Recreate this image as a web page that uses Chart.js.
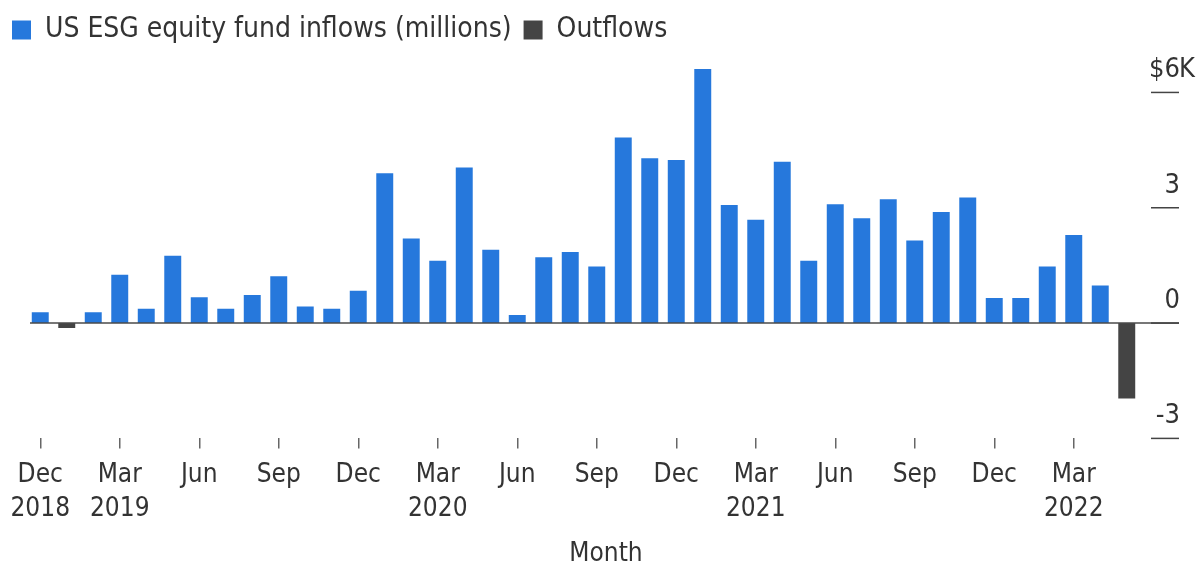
<!DOCTYPE html>
<html>
<head>
<meta charset="utf-8">
<script src="https://cdn.jsdelivr.net/npm/chart.js@4.4.1/dist/chart.umd.min.js"></script>
<style>
  html, body { margin: 0; padding: 0; background: #fff; }
  #wrap { width: 1204px; height: 565px; }
</style>
</head>
<body>
<div id="wrap"><canvas id="grafico"></canvas></div>
<script>
// Meses (dic 2018 - may 2022)
const meses = [
  'Dec 2018', 'Jan 2019', 'Feb 2019', 'Mar 2019', 'Apr 2019', 'May 2019', 'Jun 2019',
  'Jul 2019', 'Aug 2019', 'Sep 2019', 'Oct 2019', 'Nov 2019', 'Dec 2019', 'Jan 2020',
  'Feb 2020', 'Mar 2020', 'Apr 2020', 'May 2020', 'Jun 2020', 'Jul 2020', 'Aug 2020',
  'Sep 2020', 'Oct 2020', 'Nov 2020', 'Dec 2020', 'Jan 2021', 'Feb 2021', 'Mar 2021',
  'Apr 2021', 'May 2021', 'Jun 2021', 'Jul 2021', 'Aug 2021', 'Sep 2021', 'Oct 2021',
  'Nov 2021', 'Dec 2021', 'Jan 2022', 'Feb 2022', 'Mar 2022', 'Apr 2022', 'May 2022'
];

// Flujo neto en millones de USD
const flujos = [
  280, -130, 280, 1260, 370, 1750, 670, 370, 730, 1220, 430, 370, 840, 3900,
  2200, 1620, 4050, 1910, 210, 1710, 1850, 1470, 4830, 4290, 4240, 6610, 3070, 2690,
  4200, 1620, 3090, 2730, 3220, 2150, 2890, 3270, 650, 650, 1470, 2290, 980, -1960
];

// Etiquetas del eje X (una cada tres meses)
const etiquetasX = [
  ['Dec', '2018'], ['Mar', '2019'], 'Jun', 'Sep', 'Dec', ['Mar', '2020'], 'Jun',
  'Sep', 'Dec', ['Mar', '2021'], 'Jun', 'Sep', 'Dec', ['Mar', '2022']
];

// Marcas del eje Y
const marcasY = [-3000, 0, 3000, 6000];
const textosY = ['-3', '0', '3', '$6'];

const entradas = flujos.map(v => v >= 0 ? v : null);
const salidas = flujos.map(v => v < 0 ? v : null);

const FUENTE = "'DejaVu Sans Condensed', 'Liberation Sans Narrow', sans-serif";
const GRIS = '#333333';

// Dibuja línea cero, eje Y a la derecha y título "Month"
const ejesExtra = {
  id: 'ejesExtra',
  afterDatasetsDraw(chart) {
    const { ctx, chartArea, scales } = chart;
    const y = scales.y;
    ctx.save();
    // línea cero
    const y0 = y.getPixelForValue(0);
    ctx.strokeStyle = '#4a4a4a';
    ctx.lineWidth = 1.5;
    ctx.beginPath();
    ctx.moveTo(chartArea.left + 3, y0);
    ctx.lineTo(1179, y0);
    ctx.stroke();

    // marcas y textos
    ctx.font = '27px ' + FUENTE;
    ctx.fillStyle = GRIS;
    ctx.textBaseline = 'alphabetic';
    marcasY.forEach((v, i) => {
      const py = y.getPixelForValue(v);
      ctx.strokeStyle = '#444';
      ctx.lineWidth = 1.5;
      ctx.beginPath();
      ctx.moveTo(1151, py);
      ctx.lineTo(1179, py);
      ctx.stroke();
      ctx.textAlign = 'right';
      ctx.fillText(textosY[i], 1180, py - 15);
      if (v === 6000) {
        ctx.textAlign = 'left';
        ctx.fillText('K', 1179, py - 15);
      }
    });

    // título del eje X
    ctx.font = '26px ' + FUENTE;
    ctx.textAlign = 'center';
    ctx.textBaseline = 'alphabetic';
    ctx.fillText('Month', 606, 561);
    ctx.restore();
  }
};

new Chart(document.getElementById('grafico'), {
  type: 'bar',
  data: {
    labels: meses,
    datasets: [
      {
        label: 'US ESG equity fund inflows (millions)',
        data: entradas,
        backgroundColor: '#2678dc',
        barPercentage: 0.64,
        categoryPercentage: 1
      },
      {
        label: 'Outflows',
        data: salidas,
        backgroundColor: '#444444',
        barPercentage: 0.64,
        categoryPercentage: 1
      }
    ]
  },
  options: {
    responsive: true,
    maintainAspectRatio: false,
    animation: false,
    layout: { padding: { left: 0, right: 64, top: 4, bottom: 29 } },
    plugins: {
      legend: {
        position: 'top',
        align: 'start',
        labels: {
          boxWidth: 19,
          boxHeight: 19,
          padding: 12,
          color: GRIS,
          font: { family: FUENTE, size: 28 }
        }
      },
      tooltip: { enabled: false }
    },
    scales: {
      x: {
        stacked: true,
        border: { display: false },
        grid: {
          offset: false,
          drawOnChartArea: false,
          drawTicks: true,
          tickLength: 10,
          color: '#666',
          lineWidth: 1.5
        },
        ticks: {
          autoSkip: false,
          maxRotation: 0,
          padding: 10,
          color: GRIS,
          font: { family: FUENTE, size: 26, lineHeight: 1.3 },
          callback: (val, idx) => idx % 3 === 0 ? etiquetasX[idx / 3] : null
        }
      },
      y: {
        stacked: true,
        position: 'left',
        min: -3000,
        max: 7000,
        border: { display: false },
        grid: { display: false },
        ticks: { display: false },
        afterFit: (scale) => { scale.width = 27; }
      }
    }
  },
  plugins: [ejesExtra]
});
</script>
</body>
</html>
